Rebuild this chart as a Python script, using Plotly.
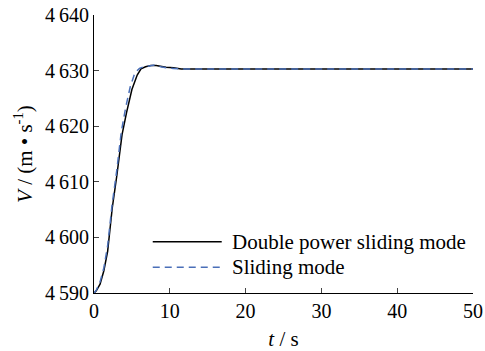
import plotly.graph_objects as go

t_double = [0, 0.3, 0.8, 1.3, 1.8, 2.4, 3.0, 3.7, 4.3, 5.0, 5.7, 6.2, 6.8, 7.5, 8.2, 8.8, 9.5, 10.5, 11.5, 15, 20, 30, 40, 50]
v_double = [4590, 4590.4, 4591.6, 4594.0, 4597.5, 4605.2, 4611.0, 4618.5, 4622.5, 4626.6, 4629.2, 4630.3, 4630.7,
            4630.9, 4630.9, 4630.7, 4630.6, 4630.5, 4630.3, 4630.3, 4630.3, 4630.3, 4630.3, 4630.3]

t_sliding = [0, 0.3, 0.8, 1.3, 1.8, 2.4, 3.0, 3.6, 4.2, 4.8, 5.4, 6.0, 6.6, 7.3, 8.0, 8.8, 9.5, 10.5, 11.5, 15, 20, 30, 40, 50]
v_sliding = [4590, 4590.5, 4592.0, 4594.5, 4598.5, 4606.0, 4612.0, 4619.0, 4623.5, 4627.2, 4629.6, 4630.4, 4630.7,
             4630.9, 4631.0, 4630.7, 4630.5, 4630.4, 4630.3, 4630.3, 4630.3, 4630.3, 4630.3, 4630.3]

series_names = ["Double power sliding mode", "Sliding mode"]
x_ticks = [0, 10, 20, 30, 40, 50]
y_ticks = [4590, 4600, 4610, 4620, 4630, 4640]
y_ticklabels = ["4\u2009590", "4\u2009600", "4\u2009610", "4\u2009620", "4\u2009630", "4\u2009640"]

font_family = "Liberation Serif, Times New Roman, serif"
styles = [dict(color="black", width=1.5), dict(color="#4a6fb8", width=1.5, dash="7px,5px")]

fig = go.Figure()
fig.add_trace(go.Scatter(x=t_double, y=v_double, mode="lines", name=series_names[0], line=styles[0]))
fig.add_trace(go.Scatter(x=t_sliding, y=v_sliding, mode="lines", name=series_names[1], line=styles[1]))

# legend drawn manually (long sample lines as in the reference)
leg_rows = [0.184, 0.093]
for name, st, yy in zip(series_names, styles, leg_rows):
    fig.add_shape(type="line", xref="paper", yref="paper", x0=0.155, x1=0.337, y0=yy, y1=yy, line=st)
    fig.add_annotation(xref="paper", yref="paper", x=0.36, y=yy, text=name, showarrow=False,
                       xanchor="left", yanchor="middle", font=dict(family=font_family, size=21, color="black"))

fig.update_layout(
    width=485, height=351,
    margin=dict(l=94, r=12, t=15, b=58),
    paper_bgcolor="white", plot_bgcolor="white",
    font=dict(family=font_family, size=20, color="black"),
    showlegend=False,
    xaxis=dict(range=[0, 50], tickvals=x_ticks, ticks="inside", ticklen=5, tickwidth=1, automargin=False,
               showline=True, linecolor="black", linewidth=1.2, showgrid=False, zeroline=False,
               tickfont=dict(family=font_family, size=20),
               title=dict(text="<i>t</i> / s", font=dict(family=font_family, size=21), standoff=18)),
    yaxis=dict(range=[4590, 4640], tickvals=y_ticks, ticktext=y_ticklabels, ticks="inside", ticklen=5,
               tickwidth=1, showline=True, linecolor="black", linewidth=1.2, showgrid=False, zeroline=False,
               automargin=False,
               tickfont=dict(family=font_family, size=20),
               title=dict(text="<i>V</i> / (m • s<sup>-1</sup>)", font=dict(family=font_family, size=21), standoff=6)),
)

fig.write_html("out.html")
